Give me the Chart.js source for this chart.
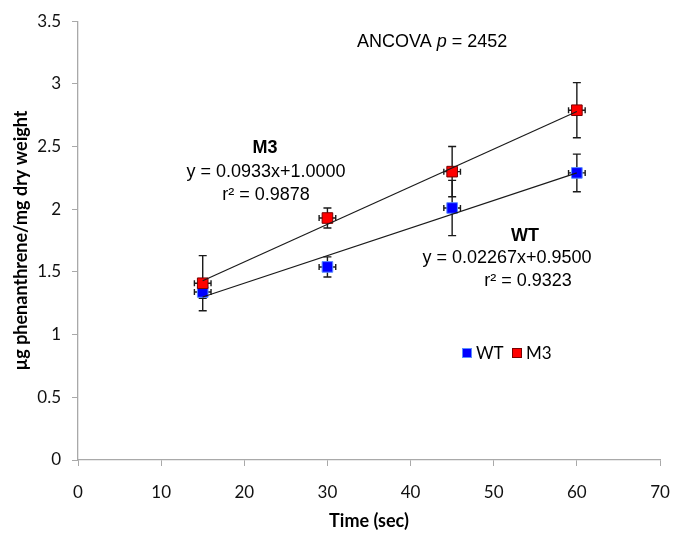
<!DOCTYPE html>
<html>
<head>
<meta charset="utf-8">
<script src="https://cdn.jsdelivr.net/npm/chart.js@4.4.0/dist/chart.umd.min.js"></script>
<style>
  html, body { margin: 0; padding: 0; background: #fff; }
  .chart-wrap { width: 676px; height: 541px; }
</style>
</head>
<body>
<div class="chart-wrap"><canvas id="uptakeChart"></canvas></div>
<script>
// data
const times = [15, 30, 45, 60];
const wtValues = [1.34, 1.54, 2.01, 2.29];
const m3Values = [1.41, 1.93, 2.30, 2.79];
const wtErr = [0.05, 0.08, 0.22, 0.15];
const m3Err = [0.22, 0.08, 0.20, 0.22];
const timeErr = [1, 1, 1, 1];
const trendX = [15, 60];
const wtTrend = [1.30, 2.29];
const m3Trend = [1.43, 2.78];
const xTicks = [0, 10, 20, 30, 40, 50, 60, 70];
const yTicks = [0, 0.5, 1, 1.5, 2, 2.5, 3, 3.5];

const toPoints = (xs, ys) => xs.map((x, i) => ({ x: x, y: ys[i] }));

const tickFont = { family: 'Lato', size: 17 };
const axisGrey = '#a9a9a9';

/* error bars: vertical + small horizontal, drawn under the markers */
const errorBars = {
  id: 'errorBars',
  beforeDatasetsDraw(chart) {
    const ctx = chart.ctx, xs = chart.scales.x, ys = chart.scales.y;
    ctx.save();
    ctx.strokeStyle = '#1a1a1a';
    ctx.lineWidth = 1.4;
    chart.data.datasets.forEach(ds => {
      if (!ds.yErr) return;
      ds.data.forEach((p, i) => {
        const px = xs.getPixelForValue(p.x), py = ys.getPixelForValue(p.y);
        const top = ys.getPixelForValue(p.y + ds.yErr[i]);
        const bot = ys.getPixelForValue(p.y - ds.yErr[i]);
        const l = xs.getPixelForValue(p.x - ds.xErr[i]);
        const r = xs.getPixelForValue(p.x + ds.xErr[i]);
        ctx.beginPath();
        ctx.moveTo(px, top); ctx.lineTo(px, bot);
        ctx.moveTo(px - 4, top); ctx.lineTo(px + 4, top);
        ctx.moveTo(px - 4, bot); ctx.lineTo(px + 4, bot);
        ctx.moveTo(l, py); ctx.lineTo(r, py);
        ctx.moveTo(l, py - 3); ctx.lineTo(l, py + 3);
        ctx.moveTo(r, py - 3); ctx.lineTo(r, py + 3);
        ctx.stroke();
      });
    });
    ctx.restore();
  }
};

/* equation labels, ANCOVA note and the small legend inside the plot */
const notes = {
  id: 'notes',
  afterDraw(chart) {
    const ctx = chart.ctx;
    ctx.save();
    ctx.fillStyle = '#000';
    ctx.textBaseline = 'middle';
    ctx.textAlign = 'left';

    // ANCOVA p = 2452 (p in italics)
    const reg = '18px "Liberation Sans", Arial, sans-serif';
    const ital = 'italic 18px "Liberation Sans", Arial, sans-serif';
    let x = 357;
    ctx.font = reg; ctx.fillText('ANCOVA ', x, 42); x += ctx.measureText('ANCOVA ').width;
    ctx.font = ital; ctx.fillText('p', x, 42); x += ctx.measureText('p').width;
    ctx.font = reg; ctx.fillText(' = 2452', x, 42);

    ctx.textAlign = 'center';
    ctx.font = 'bold 18px "Liberation Sans", Arial, sans-serif';
    ctx.fillText('M3', 265, 148);
    ctx.fillText('WT', 525, 236);
    ctx.font = reg;
    ctx.fillText('y = 0.0933x+1.0000', 266, 172);
    ctx.fillText('r\u00B2 = 0.9878', 266, 195);
    ctx.fillText('y = 0.02267x+0.9500', 507, 258);
    ctx.fillText('r\u00B2 = 0.9323', 528, 281);

    // legend
    const items = chart.data.datasets.filter(d => d.inLegend).sort((a, b) => a.legendPos - b.legendPos);
    let lx = 462;
    ctx.textAlign = 'left';
    ctx.font = '17px Lato';
    items.forEach(d => {
      ctx.fillStyle = d.backgroundColor;
      ctx.fillRect(lx, 348, 10, 10);
      ctx.strokeStyle = d.borderColor;
      ctx.lineWidth = 1;
      ctx.strokeRect(lx + 0.5, 348.5, 9, 9);
      ctx.fillStyle = '#000';
      ctx.fillText(d.label, lx + 14, 354);
      lx += 50;
    });
    ctx.restore();
  }
};

const ctx = document.getElementById('uptakeChart').getContext('2d');
new Chart(ctx, {
  type: 'scatter',
  data: {
    datasets: [
      {
        label: 'M3 trend',
        data: toPoints(trendX, m3Trend),
        showLine: true,
        borderColor: '#1a1a1a',
        borderWidth: 1.2,
        pointRadius: 0,
        order: 0
      },
      {
        label: 'WT trend',
        data: toPoints(trendX, wtTrend),
        showLine: true,
        borderColor: '#1a1a1a',
        borderWidth: 1.2,
        pointRadius: 0,
        order: 0
      },
      {
        label: 'M3',
        data: toPoints(times, m3Values),
        yErr: m3Err,
        xErr: timeErr,
        pointStyle: 'rect',
        pointRadius: 7.5,
        backgroundColor: '#ff0000',
        borderColor: '#7a0000',
        borderWidth: 1,
        inLegend: true,
        legendPos: 1,
        order: 1
      },
      {
        label: 'WT',
        data: toPoints(times, wtValues),
        yErr: wtErr,
        xErr: timeErr,
        pointStyle: 'rect',
        pointRadius: 7.5,
        backgroundColor: '#0000ff',
        borderColor: '#5b8dff',
        borderWidth: 1,
        inLegend: true,
        legendPos: 0,
        order: 2
      }
    ]
  },
  options: {
    responsive: true,
    maintainAspectRatio: false,
    animation: false,
    layout: { padding: { top: 14, right: 16, left: 0, bottom: 0 } },
    plugins: {
      legend: { display: false },
      tooltip: { enabled: false }
    },
    scales: {
      x: {
        min: 0, max: 70,
        afterBuildTicks: axis => { axis.ticks = xTicks.map(v => ({ value: v })); },
        afterFit: s => { s.height = 81; s.paddingLeft = 0; s.paddingRight = 0; },
        border: { color: axisGrey, width: 1.3 },
        grid: { drawOnChartArea: false, tickLength: 6, color: axisGrey },
        ticks: { font: tickFont, color: '#111', padding: 16, maxRotation: 0, callback: v => String(v) },
        title: {
          display: true, text: 'Time (sec)', color: '#000',
          font: { family: 'Lato', size: 18, weight: 'bold' },
          padding: { top: 9, bottom: 9 }
        }
      },
      y: {
        min: 0, max: 3.5,
        afterBuildTicks: axis => { axis.ticks = yTicks.map(v => ({ value: v })); },
        afterFit: s => { s.width = 78; },
        border: { color: axisGrey, width: 1.3 },
        grid: { drawOnChartArea: false, tickLength: 6, color: axisGrey },
        ticks: { font: tickFont, color: '#111', padding: 11, callback: v => String(v) },
        title: {
          display: true, text: 'µg phenanthrene/mg dry weight', color: '#000',
          font: { family: 'Lato', size: 18, weight: 'bold' },
          padding: { top: 10, bottom: 0 }
        }
      }
    }
  },
  plugins: [errorBars, notes]
});
</script>
</body>
</html>
